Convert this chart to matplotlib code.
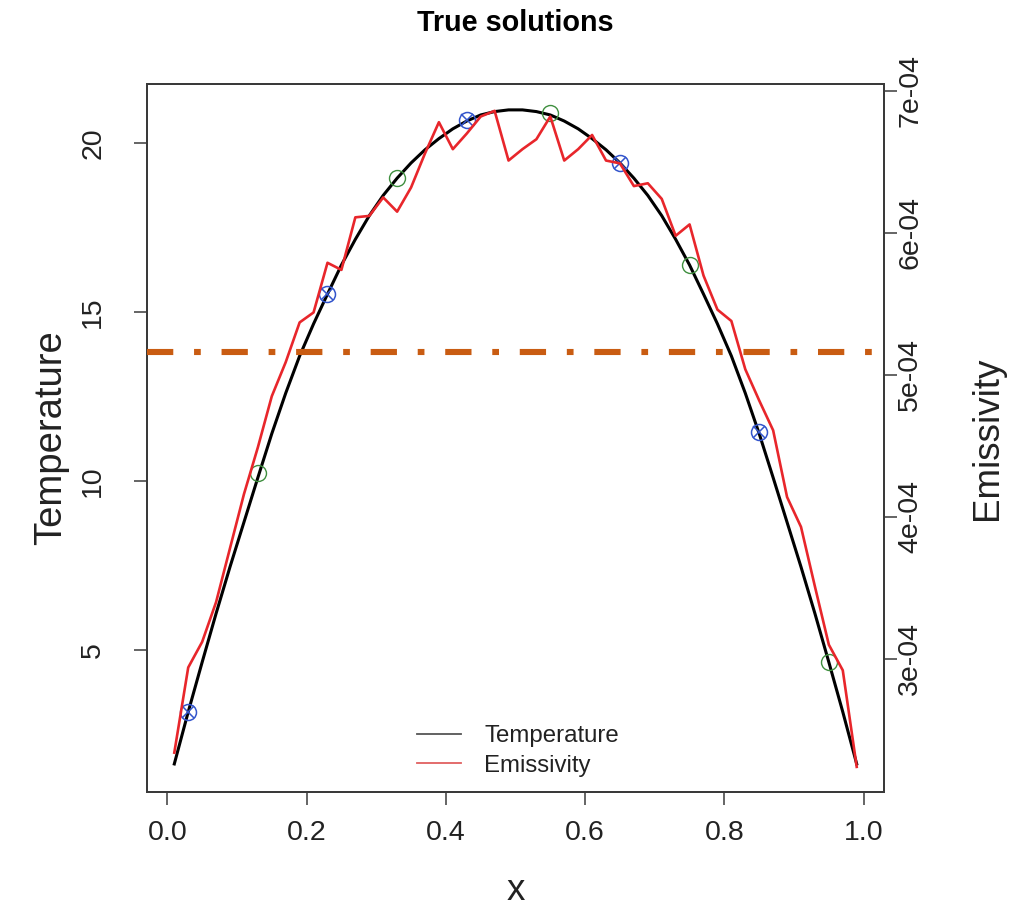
import matplotlib
matplotlib.use("Agg")
import matplotlib.pyplot as plt
from matplotlib.lines import Line2D

# ---------------- data ----------------
x_grid = [0.01, 0.03, 0.05, 0.07, 0.09, 0.11, 0.13, 0.15, 0.17, 0.19,
          0.21, 0.23, 0.25, 0.27, 0.29, 0.31, 0.33, 0.35, 0.37, 0.39,
          0.41, 0.43, 0.45, 0.47, 0.49, 0.51, 0.53, 0.55, 0.57, 0.59,
          0.61, 0.63, 0.65, 0.67, 0.69, 0.71, 0.73, 0.75, 0.77, 0.79,
          0.81, 0.83, 0.85, 0.87, 0.89, 0.91, 0.93, 0.95, 0.97, 0.99]

temperature = [1.63, 3.17, 4.64, 6.08, 7.46, 8.78, 10.10, 11.40, 12.60, 13.70,
               14.65, 15.53, 16.39, 17.15, 17.85, 18.45, 18.96, 19.41, 19.80, 20.13,
               20.42, 20.65, 20.83, 20.93, 20.98, 20.98, 20.93, 20.83, 20.65, 20.42,
               20.13, 19.80, 19.41, 18.96, 18.45, 17.85, 17.15, 16.39, 15.53, 14.65,
               13.70, 12.60, 11.40, 10.10, 8.78, 7.46, 6.08, 4.64, 3.17, 1.63]

# emissivity in units of 1e-4
emissivity_e4 = [2.34, 2.94, 3.12, 3.40, 3.78, 4.16, 4.49, 4.85, 5.09, 5.37,
                 5.44, 5.79, 5.74, 6.11, 6.12, 6.25, 6.15, 6.32, 6.56, 6.78,
                 6.59, 6.70, 6.82, 6.86, 6.51, 6.59, 6.66, 6.82, 6.51, 6.59,
                 6.69, 6.51, 6.49, 6.33, 6.35, 6.24, 5.98, 6.06, 5.70, 5.46,
                 5.38, 5.04, 4.82, 4.61, 4.14, 3.93, 3.51, 3.10, 2.92, 2.24]
emissivity = [v * 1e-4 for v in emissivity_e4]

blue_x = [0.03, 0.23, 0.43, 0.65, 0.85]
blue_T = [3.17, 15.53, 20.68, 19.41, 11.45]
green_x = [0.13, 0.33, 0.55, 0.75, 0.95]
green_T = [10.24, 18.96, 20.89, 16.39, 4.64]

threshold_emissivity = 5.16e-4

x_ticks = [0.0, 0.2, 0.4, 0.6, 0.8, 1.0]
x_ticklabels = ["0.0", "0.2", "0.4", "0.6", "0.8", "1.0"]
t_ticks = [5, 10, 15, 20]
t_ticklabels = ["5", "10", "15", "20"]
e_ticks = [3e-4, 4e-4, 5e-4, 6e-4, 7e-4]
e_ticklabels = ["3e-04", "4e-04", "5e-04", "6e-04", "7e-04"]

title = "True solutions"
legend_labels = ["Temperature", "Emissivity"]

# ---------------- figure ----------------
plt.rcParams['font.family'] = ['Liberation Sans', 'DejaVu Sans']
W, H = 1016, 910
fig = plt.figure(figsize=(W / 100, H / 100), dpi=100)
L, R, T, B = 147, 884, 84, 792
ax = fig.add_axes([L / W, (H - B) / H, (R - L) / W, (B - T) / H])
ax2 = ax.twinx()

txt = '#222222'
edge = '#3a3a3a'

ax.plot(x_grid, temperature, color='black', lw=2.2, zorder=3)
ax2.plot(x_grid, emissivity, color='#E8262B', lw=1.9, zorder=3)
ax2.axhline(threshold_emissivity, color='#C95C12', lw=4.4,
            dashes=(4.3, 3.4, 1.1, 3.4), zorder=4)

ax.plot(blue_x, blue_T, ls='none', marker='o', ms=11.5, mfc='none',
        mec='#3355CC', mew=1.1, zorder=5)
ax.plot(blue_x, blue_T, ls='none', marker='x', ms=8.0,
        mec='#3355CC', mew=1.1, zorder=5)
ax.plot(green_x, green_T, ls='none', marker='o', ms=11.5, mfc='none',
        mec='#3F8F3F', mew=1.0, zorder=5)

ax.set_xlim(-0.0292, 1.0292)
ax.set_ylim(0.80, 21.746)
ax2.set_ylim(2.063e-4, 7.049e-4)

ax.set_xticks(x_ticks)
ax.set_xticklabels(x_ticklabels)
ax.set_yticks(t_ticks)
ax.set_yticklabels(t_ticklabels)
ax2.set_yticks(e_ticks)
ax2.set_yticklabels(e_ticklabels)

for a in (ax, ax2):
    for s in a.spines.values():
        s.set_color(edge)
        s.set_linewidth(1.4)
    a.tick_params(length=9.4, width=1.1, color=edge, labelcolor=txt,
                  labelsize=20.5)

ax.tick_params(axis='x', pad=11)
ax.tick_params(axis='y', pad=20, labelrotation=90)
ax2.tick_params(axis='y', pad=0, labelrotation=90)
for lab in ax.get_yticklabels():
    lab.set_va('center')
for lab in ax2.get_yticklabels():
    lab.set_va('center')

ax.set_xlabel('x', fontsize=26.5, color=txt, labelpad=19)
ax.set_ylabel('Temperature', fontsize=27.5, color=txt, labelpad=8)
ax2.set_ylabel('Emissivity', fontsize=26.5, color=txt, labelpad=34,
               rotation=90)

fig.text((L + R) / 2 / W, 1 - 23 / H, title, ha='center', va='center',
         fontsize=20.7, fontweight='bold', color='black')

handles = [Line2D([], [], color='#555555', lw=1.3),
           Line2D([], [], color='#E06060', lw=1.3)]
ax.legend(handles, legend_labels, loc='upper left',
          bbox_to_anchor=(0.366, 0.094), frameon=False, fontsize=17.3,
          handlelength=1.85, handletextpad=0.95, labelspacing=0.3,
          borderpad=0, borderaxespad=0, labelcolor=txt)

fig.savefig('out.png', dpi=100)
